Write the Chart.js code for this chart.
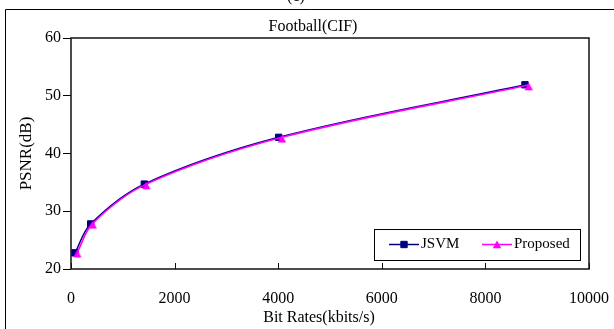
<!DOCTYPE html>
<html>
<head>
<meta charset="utf-8">
<script src="https://cdn.jsdelivr.net/npm/chart.js@4/dist/chart.umd.min.js"></script>
<style>
  html, body { margin: 0; padding: 0; background: #fff; }
  canvas { display: block; }
</style>
</head>
<body>
<canvas id="c" width="614" height="329"></canvas>
<script>
// Rate-distortion curves, Football (CIF)
const chartTitle = 'Football(CIF)';
const figureTag = '(c)';
const xTitle = 'Bit Rates(kbits/s)';
const yTitle = 'PSNR(dB)';
const seriesNames = ['JSVM', 'Proposed'];

const jsvmRate = [77, 380, 1415, 4010, 8764];
const jsvmPsnr = [22.8, 27.8, 34.7, 42.8, 51.9];
const propRate = [122, 419, 1454, 4073, 8836];
const propPsnr = [22.9, 27.9, 34.7, 42.8, 51.85];

const xTicks = [0, 2000, 4000, 6000, 8000, 10000];
const yTicks = [20, 30, 40, 50, 60];

const FONT = "'Liberation Serif', 'Times New Roman', serif";
const toPoints = (xs, ys) => xs.map((x, i) => ({ x: x, y: ys[i] }));

// Triangle marker whose anchor sits near its apex, so it hangs under the curve
function triangleGlyph(color) {
  const c = document.createElement('canvas');
  c.width = 10; c.height = 12;
  const g = c.getContext('2d');
  g.fillStyle = color;
  g.beginPath();
  g.moveTo(5, 3.6);
  g.lineTo(9.2, 11.2);
  g.lineTo(0.8, 11.2);
  g.closePath();
  g.fill();
  return c;
}
const triMarker = triangleGlyph('#ff00ff');

function marker(ctx, ds, x, y) {
  ctx.fillStyle = ds.pointBackgroundColor;
  ctx.strokeStyle = ds.pointBorderColor;
  ctx.lineWidth = ds.pointBorderWidth;
  Chart.helpers.drawPoint(ctx, {
    pointStyle: ds.pointStyle, radius: ds.pointRadius,
    rotation: 0, borderWidth: ds.pointBorderWidth
  }, x, y);
}

const decor = {
  id: 'decor',
  beforeDraw(chart) {
    const ctx = chart.ctx;
    ctx.save();
    ctx.fillStyle = '#fff';
    ctx.fillRect(0, 0, chart.width, chart.height);
    // outer frame
    ctx.strokeStyle = '#000';
    ctx.lineWidth = 1;
    ctx.beginPath();
    ctx.moveTo(5.5, chart.height + 2);
    ctx.lineTo(5.5, 9.5);
    ctx.lineTo(chart.width + 2, 9.5);
    ctx.stroke();
    ctx.fillStyle = '#000';
    ctx.font = '16px ' + FONT;
    ctx.textAlign = 'center';
    ctx.textBaseline = 'alphabetic';
    ctx.fillText(figureTag, 296, 1);
    ctx.restore();
  },
  beforeDatasetsDraw(chart) {
    const ctx = chart.ctx, a = chart.chartArea;
    ctx.save();
    ctx.strokeStyle = '#111';
    ctx.lineWidth = 1.5;
    ctx.strokeRect(a.left, a.top, a.right - a.left, a.bottom - a.top);
    // inward tick marks on the rate axis
    ctx.lineWidth = 1;
    const xs = chart.scales.x;
    xs.ticks.forEach(t => {
      const px = Math.round(xs.getPixelForValue(t.value)) + 0.5;
      ctx.beginPath();
      ctx.moveTo(px, a.bottom);
      ctx.lineTo(px, a.bottom - 6);
      ctx.stroke();
    });
    ctx.restore();
  },
  afterDraw(chart) {
    const ctx = chart.ctx, a = chart.chartArea;
    ctx.save();
    ctx.fillStyle = '#000';
    ctx.textAlign = 'center';
    ctx.textBaseline = 'middle';
    ctx.font = '16px ' + FONT;
    ctx.fillText(chartTitle, 313, 27);
    ctx.fillText(xTitle, 319, 318);
    ctx.save();
    ctx.translate(27, (a.top + a.bottom) / 2);
    ctx.rotate(-Math.PI / 2);
    ctx.font = '17px ' + FONT;
    ctx.fillText(yTitle, 0, 0);
    ctx.restore();

    // legend box in the lower right of the plot
    const bx = a.right - 215, by = a.bottom - 40, bw = 206, bh = 31;
    ctx.fillStyle = '#fff';
    ctx.fillRect(bx, by, bw, bh);
    ctx.strokeStyle = '#000';
    ctx.lineWidth = 1;
    ctx.strokeRect(bx + 0.5, by + 0.5, bw, bh);
    const cy = by + 15.5;
    const offsets = [15, 108];
    ctx.font = '15px ' + FONT;
    ctx.textAlign = 'left';
    chart.data.datasets.forEach((ds, i) => {
      const x0 = bx + offsets[i];
      ctx.strokeStyle = ds.borderColor;
      ctx.lineWidth = 1.5;
      ctx.beginPath();
      ctx.moveTo(x0, cy);
      ctx.lineTo(x0 + 30, cy);
      ctx.stroke();
      marker(ctx, ds, x0 + 15, i === 1 ? cy - 1.5 : cy);
      ctx.fillStyle = '#000';
      ctx.fillText(ds.label, x0 + 32, cy);
    });
    ctx.restore();
  }
};

new Chart(document.getElementById('c'), {
  type: 'scatter',
  data: {
    datasets: [
      {
        label: seriesNames[0],
        data: toPoints(jsvmRate, jsvmPsnr),
        showLine: true,
        borderColor: '#000080',
        borderWidth: 1.5,
        tension: 0.35,
        pointStyle: 'rect',
        pointRadius: 4.5,
        pointBorderWidth: 1,
        pointBackgroundColor: '#000080',
        pointBorderColor: '#000080',
        order: 1
      },
      {
        label: seriesNames[1],
        data: toPoints(propRate, propPsnr),
        showLine: true,
        borderColor: '#ff00ff',
        borderWidth: 1.6,
        tension: 0.35,
        pointStyle: triMarker,
        pointRadius: 4.5,
        pointBorderWidth: 0,
        pointBackgroundColor: '#ff00ff',
        pointBorderColor: '#ff00ff',
        order: 0
      }
    ]
  },
  options: {
    responsive: false,
    animation: false,
    devicePixelRatio: 1,
    layout: { padding: { left: 0, top: 38, right: 25, bottom: 0 } },
    plugins: {
      legend: { display: false },
      title: { display: false },
      tooltip: { enabled: false }
    },
    scales: {
      x: {
        type: 'linear',
        min: 0,
        max: 10000,
        afterBuildTicks: s => { s.ticks = xTicks.map(v => ({ value: v })); },
        afterFit: s => { s.height = 60; s.paddingLeft = 0; s.paddingRight = 0; },
        grid: { drawOnChartArea: false, drawTicks: false },
        border: { display: false },
        ticks: {
          color: '#000',
          font: { family: FONT, size: 16 },
          padding: 20,
          maxRotation: 0,
          autoSkip: false,
          callback: v => String(v)
        }
      },
      y: {
        type: 'linear',
        min: 20,
        max: 60,
        afterBuildTicks: s => { s.ticks = yTicks.map(v => ({ value: v })); },
        afterFit: s => { s.width = 71; s.paddingTop = 0; s.paddingBottom = 0; },
        grid: { drawOnChartArea: false, drawTicks: true, tickLength: 8, color: '#000', tickColor: '#000' },
        border: { display: false },
        ticks: {
          color: '#000',
          font: { family: FONT, size: 16 },
          padding: 2,
          callback: v => String(v)
        }
      }
    }
  },
  plugins: [decor]
});
</script>
</body>
</html>
